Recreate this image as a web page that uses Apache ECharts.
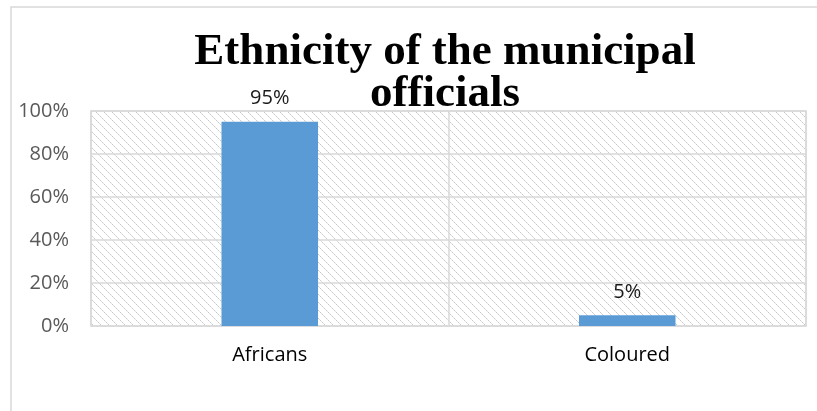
<!DOCTYPE html>
<html>
<head>
<meta charset="utf-8">
<script src="https://cdn.jsdelivr.net/npm/echarts@6/dist/echarts.min.js"></script>
<style>
  html, body { margin: 0; padding: 0; background: #fff; }
  #chart { width: 817px; height: 411px; }
</style>
</head>
<body>
<div id="chart"></div>
<script>
// Ethnicity breakdown of municipal officials (percent)
const categories = ['Africans', 'Coloured'];
const shares = [95, 5];
const yTicks = [0, 20, 40, 60, 80, 100];

// Light downward-diagonal hatch used as the plot-area fill
function makeHatch() {
  const size = 8;
  const c = document.createElement('canvas');
  c.width = size; c.height = size;
  const ctx = c.getContext('2d');
  ctx.fillStyle = '#ffffff';
  ctx.fillRect(0, 0, size, size);
  for (let i = 0; i < size; i++) {
    ctx.fillStyle = i % 2 ? '#dedede' : '#cacaca';
    ctx.fillRect(i, i, 1, 1);
  }
  return c;
}

const chart = echarts.init(document.getElementById('chart'), null, { renderer: 'canvas' });

chart.setOption({
  backgroundColor: '#ffffff',
  animation: false,
  title: {
    text: 'Ethnicity of the municipal\nofficials',
    left: 440,
    top: 26,
    textAlign: 'center',
    textStyle: {
      fontFamily: 'Liberation Serif',
      fontWeight: 'bold',
      fontSize: 45,
      lineHeight: 42,
      color: '#000000'
    }
  },
  graphic: [{
    type: 'rect',
    z: -10,
    silent: true,
    shape: { x: 11, y: 7, width: 1000, height: 1000 },
    style: { fill: 'none', stroke: '#d9d9d9', lineWidth: 1.5 }
  }],
  grid: {
    left: 91,
    right: 11,
    top: 111,
    bottom: 85,
    show: true,
    backgroundColor: { image: makeHatch(), repeat: 'repeat' },
    borderColor: '#d9d9d9',
    borderWidth: 1.5
  },
  xAxis: {
    type: 'category',
    data: categories,
    axisLine: { show: false },
    axisTick: { show: false },
    splitLine: { show: true, lineStyle: { color: '#d9d9d9', width: 1.5 } },
    axisLabel: {
      margin: 19,
      fontFamily: 'Open Sans',
      fontSize: 20,
      color: '#000000'
    }
  },
  yAxis: {
    type: 'value',
    min: yTicks[0],
    max: yTicks[yTicks.length - 1],
    interval: 20,
    axisLine: { show: false },
    axisTick: { show: false },
    splitLine: { lineStyle: { color: '#d9d9d9', width: 1.5 } },
    axisLabel: {
      margin: 22,
      fontFamily: 'Open Sans',
      fontSize: 20,
      color: '#595959',
      formatter: v => v + '%'
    }
  },
  series: [{
    type: 'bar',
    data: shares,
    barWidth: '27%',
    itemStyle: { color: '#5b9bd5' },
    label: {
      show: true,
      position: 'top',
      distance: 13,
      fontFamily: 'Open Sans',
      fontSize: 20,
      color: '#1a1a1a',
      formatter: p => p.value + '%'
    }
  }]
});
</script>
</body>
</html>
